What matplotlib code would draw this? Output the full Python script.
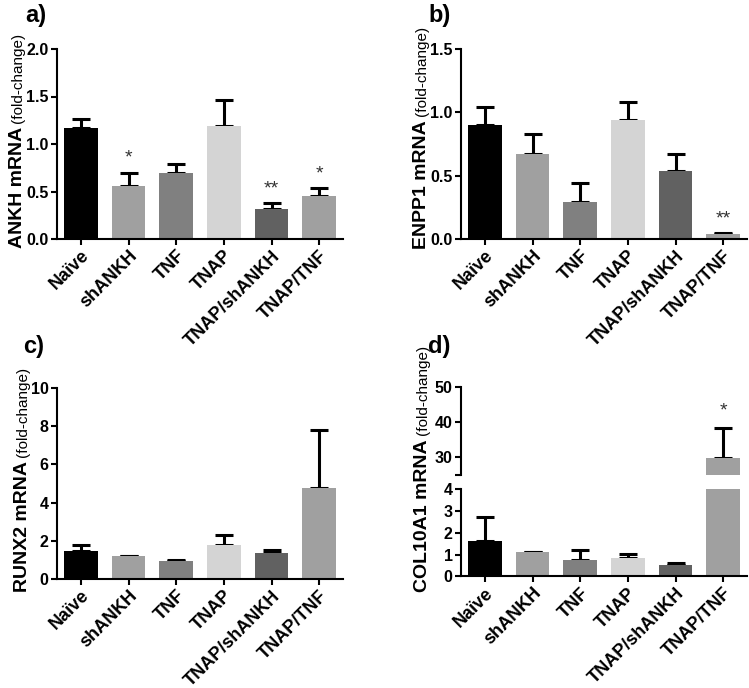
import matplotlib
matplotlib.use('Agg')
import matplotlib.pyplot as plt
import numpy as np

plt.rcParams['font.family'] = ['Liberation Sans', 'DejaVu Sans']

categories = ['Naïve', 'shANKH', 'TNF', 'TNAP', 'TNAP/shANKH', 'TNAP/TNF']
bar_colors = ['#000000', '#a0a0a0', '#808080', '#d4d4d4', '#616161', '#a0a0a0']

ankh_mean = [1.17, 0.56, 0.70, 1.19, 0.32, 0.45]
ankh_err = [0.09, 0.14, 0.09, 0.27, 0.06, 0.09]
ankh_sig = ['', '*', '', '', '**', '*']

enpp1_mean = [0.90, 0.67, 0.29, 0.94, 0.54, 0.04]
enpp1_err = [0.14, 0.16, 0.15, 0.14, 0.13, 0.01]
enpp1_sig = ['', '', '', '', '', '**']

runx2_mean = [1.49, 1.19, 0.96, 1.77, 1.35, 4.76]
runx2_err = [0.29, 0.02, 0.02, 0.54, 0.17, 3.02]

col10_mean = [1.64, 1.10, 0.77, 0.86, 0.54, 29.8]
col10_err = [1.09, 0.02, 0.43, 0.17, 0.07, 8.4]
col10_sig = ['', '', '', '', '', '*']

W, H = 749, 688
fig = plt.figure(figsize=(W / 100, H / 100), dpi=100)

def rect(l, t, r, b):
    return [l / W, 1 - b / H, (r - l) / W, (b - t) / H]

SPW = 1.5
def style(ax, xt=True):
    for s in ['top', 'right']:
        ax.spines[s].set_visible(False)
    for s in ['left', 'bottom']:
        ax.spines[s].set_linewidth(SPW)
    ax.tick_params(axis='both', direction='out', length=4, width=SPW, pad=2)
    ax.set_xlim(-0.5, 5.5)
    x = np.arange(len(categories))
    if xt:
        ax.set_xticks(x)
        ax.set_xticklabels(categories, rotation=45, ha='right', rotation_mode='anchor',
                           fontsize=13, fontweight='bold')
    else:
        ax.set_xticks([])
    for lab in ax.get_yticklabels():
        lab.set_fontweight('bold')
        lab.set_fontsize(11.5)

def bars(ax, mean, err):
    x = np.arange(len(categories))
    ax.bar(x, mean, width=0.71, color=bar_colors, zorder=2)
    ax.errorbar(x, mean, yerr=[np.zeros(len(mean)), err], fmt='none', ecolor='black',
                elinewidth=2.2, capsize=6.5, capthick=2.2, zorder=1)

def sig(ax, mean, err, marks, off=4):
    for i, m in enumerate(marks):
        if m:
            ax.annotate(m, (i, mean[i] + err[i]), xytext=(0, off), textcoords='offset points',
                        ha='center', va='bottom', fontsize=14, color='#333333', annotation_clip=False)

def ylabel2(bold, normal, x_px, y_px):
    t1 = fig.text(x_px / W, 1 - y_px / H, bold, rotation=90, rotation_mode='anchor',
                  ha='left', va='baseline', fontsize=14, fontweight='bold')
    fig.canvas.draw()
    bb = t1.get_window_extent()
    fig.text(x_px / W, (bb.y1 + 4) / H, normal, rotation=90, rotation_mode='anchor',
             ha='left', va='baseline', fontsize=11)

# panel a
axa = fig.add_axes(rect(57, 49, 343, 239))
bars(axa, ankh_mean, ankh_err)
axa.set_ylim(0, 2.0)
axa.set_yticks([0, 0.5, 1.0, 1.5, 2.0])
axa.set_yticklabels(['0.0', '0.5', '1.0', '1.5', '2.0'])
style(axa)
sig(axa, ankh_mean, ankh_err, ankh_sig)

# panel b
axb = fig.add_axes(rect(461, 49, 747, 239))
bars(axb, enpp1_mean, enpp1_err)
axb.set_ylim(0, 1.5)
axb.set_yticks([0, 0.5, 1.0, 1.5])
axb.set_yticklabels(['0.0', '0.5', '1.0', '1.5'])
style(axb)
sig(axb, enpp1_mean, enpp1_err, enpp1_sig)

# panel c
axc = fig.add_axes(rect(57, 388, 343, 579))
bars(axc, runx2_mean, runx2_err)
axc.set_ylim(0, 10)
axc.set_yticks([0, 2, 4, 6, 8, 10])
style(axc)

# panel d (broken axis)
axd_lo = fig.add_axes(rect(461, 489.3, 747, 576.3))
bars(axd_lo, col10_mean, col10_err)
axd_lo.set_ylim(0, 4)
axd_lo.set_yticks([0, 1, 2, 3, 4])
style(axd_lo)

axd_hi = fig.add_axes(rect(461, 386.7, 747, 474.7))
bars(axd_hi, col10_mean, col10_err)
axd_hi.set_ylim(25, 50)
axd_hi.set_yticks([25, 30, 40, 50])
axd_hi.set_yticklabels(['', '30', '40', '50'])
style(axd_hi, xt=False)
axd_hi.spines['bottom'].set_visible(False)
sig(axd_hi, col10_mean, col10_err, col10_sig, off=6)

# y labels
ylabel2('ANKH mRNA', '(fold-change)', 22, 248)
ylabel2('ENPP1 mRNA', '(fold-change)', 426, 249)
ylabel2('RUNX2 mRNA', '(fold-change)', 27, 592)
ylabel2('COL10A1 mRNA', '(fold-change)', 427, 592)

# panel letters
for lbl, xp, yp in [('a)', 25, 22), ('b)', 428, 22), ('c)', 23, 353), ('d)', 428, 353)]:
    fig.text(xp / W, 1 - yp / H, lbl, fontsize=17, fontweight='bold', ha='left', va='baseline')

fig.savefig('out.png', dpi=100)
